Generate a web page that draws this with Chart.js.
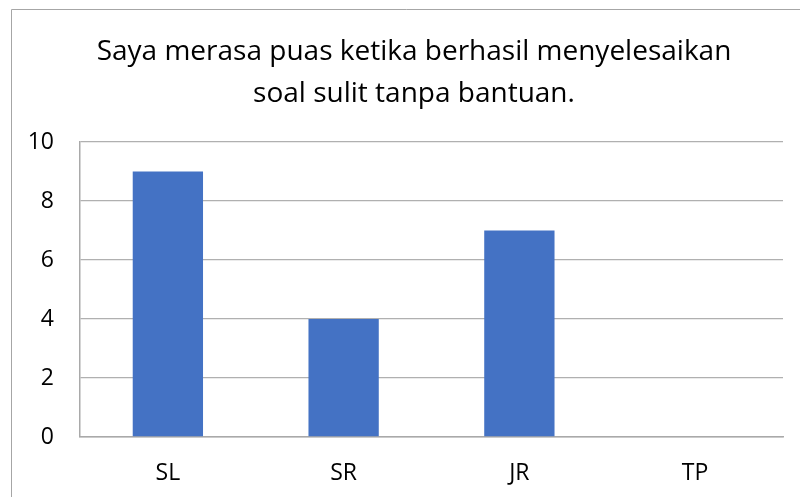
<!DOCTYPE html>
<html>
<head>
<meta charset="utf-8">
<script src="https://cdn.jsdelivr.net/npm/chart.js@4"></script>
<style>
html,body{margin:0;padding:0;background:#fff;}
#wrap{width:800px;height:497px;position:relative;}
</style>
</head>
<body>
<div id="wrap"><canvas id="c" width="800" height="497"></canvas></div>
<script>
const categories = ['SL', 'SR', 'JR', 'TP'];
const values = [9, 4, 7, 0];
const yTicks = [0, 2, 4, 6, 8, 10];
const titleLines = ['Saya merasa puas ketika berhasil menyelesaikan', 'soal sulit tanpa bantuan.'];

const FONT = "'Open Sans', 'Noto Sans', sans-serif";

const frame = {
  id: 'frame',
  afterLayout(chart) {
    // centre the title on the outer chart frame (which extends past the right edge)
    const t = chart.titleBlock;
    if (t) { t.left = 28; t.right = 800; }
  },
  beforeDraw(chart) {
    const ctx = chart.ctx;
    ctx.save();
    ctx.fillStyle = '#fff';
    ctx.fillRect(0, 0, chart.width, chart.height);
    ctx.strokeStyle = '#a6a6a6';
    ctx.lineWidth = 1;
    ctx.beginPath();
    ctx.moveTo(11.5, chart.height + 5);
    ctx.lineTo(11.5, 9.5);
    ctx.lineTo(chart.width + 5, 9.5);
    ctx.stroke();
    ctx.restore();
  }
};

new Chart(document.getElementById('c'), {
  type: 'bar',
  data: {
    labels: categories,
    datasets: [{
      data: values,
      backgroundColor: '#4472C4',
      borderWidth: 0,
      categoryPercentage: 0.8,
      barPercentage: 0.5
    }]
  },
  options: {
    responsive: false,
    animation: false,
    layout: { padding: { left: 0, right: 17, top: 0, bottom: 0 } },
    plugins: {
      legend: { display: false },
      tooltip: { enabled: false },
      title: {
        display: true,
        text: titleLines,
        color: '#000',
        font: { family: FONT, size: 28, weight: 'normal', lineHeight: 1.5 },
        padding: { top: 31, bottom: 27 }
      }
    },
    scales: {
      x: {
        grid: { display: false, drawTicks: false },
        border: { display: true, color: '#a9a9a9', width: 1.5 },
        ticks: { color: '#000', font: { family: FONT, size: 23 }, padding: 23 },
        afterFit(scale) { scale.height = 60; }
      },
      y: {
        min: 0,
        max: 10,
        afterBuildTicks(scale) { scale.ticks = yTicks.map(v => ({ value: v })); },
        grid: { color: '#b0b0b0', lineWidth: 1.3, drawTicks: false },
        border: { display: true, color: '#a9a9a9', width: 1.5 },
        ticks: { color: '#000', font: { family: FONT, size: 23 }, padding: 26 },
        afterFit(scale) { scale.width = 80; }
      }
    }
  },
  plugins: [frame]
});
</script>
</body>
</html>
